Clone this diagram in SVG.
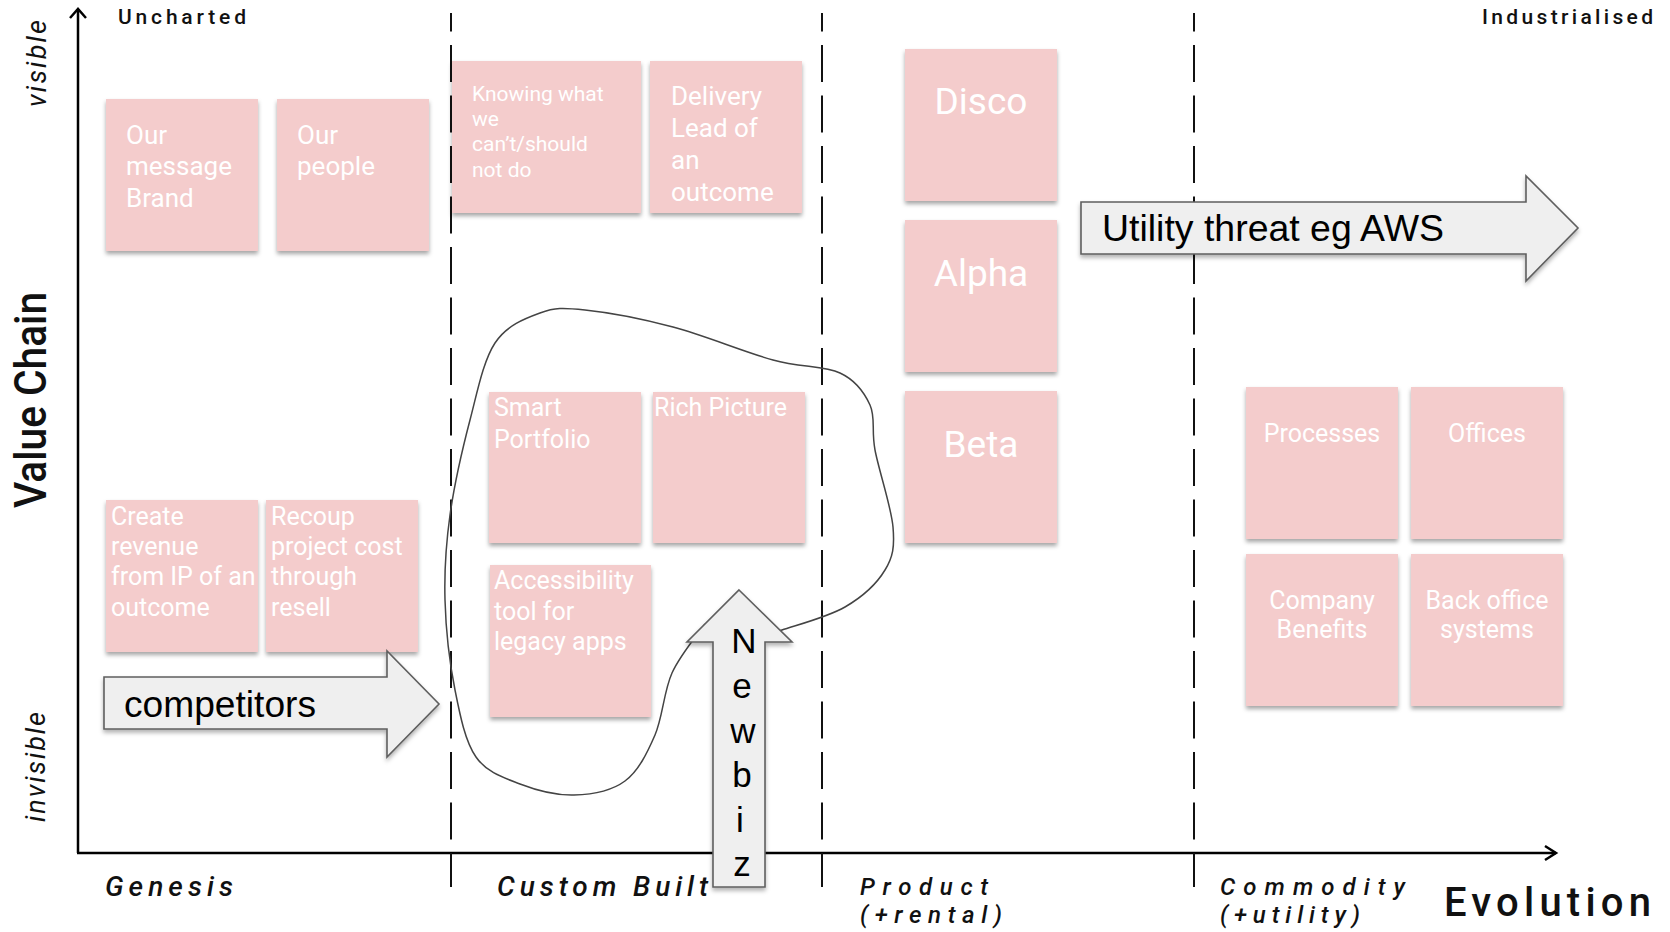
<svg xmlns="http://www.w3.org/2000/svg" width="1670" height="932" viewBox="0 0 1670 932">
<style>
.note{fill:#f4cccc;filter:url(#sh);}
.nt{fill:#ffffff;font-family:Roboto,"Liberation Sans",sans-serif;font-weight:400;}
.c{text-anchor:middle;}
.axis{stroke:#000;stroke-width:2.5;fill:none;}
.dash{stroke:#111;stroke-width:2;stroke-dasharray:37 13.5;stroke-dashoffset:18.5;}
.blk{fill:#efefef;stroke:#5f5f5f;stroke-width:1.6;filter:url(#sh2);}
.bt{font-family:"Liberation Sans",Arial,sans-serif;fill:#000;}
.lab{font-family:Roboto,"Liberation Sans",sans-serif;fill:#111;}
.stage{font-family:Roboto,"Liberation Sans",sans-serif;font-style:italic;font-weight:500;fill:#111;}
</style>
<defs>
<filter id="sh" x="-10%" y="-10%" width="130%" height="130%">
<feDropShadow dx="0" dy="3" stdDeviation="2.2" flood-color="#000" flood-opacity="0.35"/>
</filter>
<filter id="sh2" x="-10%" y="-10%" width="130%" height="130%">
<feDropShadow dx="0" dy="3" stdDeviation="2" flood-color="#000" flood-opacity="0.3"/>
</filter>
</defs>
<rect width="1670" height="932" fill="#ffffff"/>

<g id="axes">
<line class="axis" x1="78" y1="9" x2="78" y2="853"/>
<polyline class="axis" points="70,18 78,9 86,18"/>
<line class="axis" x1="77" y1="853" x2="1556" y2="853"/>
<polyline class="axis" points="1545,846 1556,853 1545,860"/>
<line class="dash" x1="451" y1="13" x2="451" y2="887"/>
<line class="dash" x1="822" y1="13" x2="822" y2="887"/>
<line class="dash" x1="1194" y1="13" x2="1194" y2="887"/>
</g>

<g id="axis-labels">
<text class="lab" x="118" y="24" font-size="21" font-weight="500" textLength="128" lengthAdjust="spacing">Uncharted</text>
<text class="lab" x="1482" y="24" font-size="21" font-weight="500" textLength="171" lengthAdjust="spacing">Industrialised</text>
<text class="lab" transform="translate(46,508) rotate(-90)" font-size="44" font-weight="500" textLength="216" lengthAdjust="spacingAndGlyphs">Value Chain</text>
<text class="lab" transform="translate(46,107) rotate(-90)" font-size="27" font-style="italic" textLength="87" lengthAdjust="spacing">visible</text>
<text class="lab" transform="translate(45,822) rotate(-90)" font-size="27" font-style="italic" textLength="110" lengthAdjust="spacing">invisible</text>
<text class="stage" x="105" y="896" font-size="28" textLength="128" lengthAdjust="spacing">Genesis</text>
<text class="stage" x="497" y="896" font-size="28" textLength="211" lengthAdjust="spacing">Custom Built</text>
<text class="stage" x="860" y="895" font-size="24" textLength="128" lengthAdjust="spacing">Product</text>
<text class="stage" x="860" y="923" font-size="24" textLength="142" lengthAdjust="spacing">(+rental)</text>
<text class="stage" x="1220" y="895" font-size="24" textLength="185" lengthAdjust="spacing">Commodity</text>
<text class="stage" x="1220" y="923" font-size="24" textLength="140" lengthAdjust="spacing">(+utility)</text>
<text class="lab" x="1444" y="916" font-size="40" font-weight="500" textLength="207" lengthAdjust="spacing">Evolution</text>
</g>

<g id="n-our-message">
<rect class="note" x="106" y="99" width="152" height="152"/>
<text class="nt" font-size="26"><tspan x="126" y="144">Our</tspan><tspan x="126" y="175">message</tspan><tspan x="126" y="207">Brand</tspan></text>
</g>
<g id="n-our-people">
<rect class="note" x="277" y="99" width="152" height="152"/>
<text class="nt" font-size="26"><tspan x="297" y="144">Our</tspan><tspan x="297" y="175">people</tspan></text>
</g>
<g id="n-knowing">
<rect class="note" x="452" y="61" width="189" height="152"/>
<text class="nt" font-size="21"><tspan x="472" y="101">Knowing what</tspan><tspan x="472" y="126">we</tspan><tspan x="472" y="151">can’t/should</tspan><tspan x="472" y="177">not do</tspan></text>
</g>
<g id="n-delivery">
<rect class="note" x="650" y="61" width="152" height="152"/>
<text class="nt" font-size="26"><tspan x="671" y="105">Delivery</tspan><tspan x="671" y="137">Lead of</tspan><tspan x="671" y="169">an</tspan><tspan x="671" y="201">outcome</tspan></text>
</g>
<g id="n-disco">
<rect class="note" x="905" y="49" width="152" height="152"/>
<text class="nt c" x="981" y="114" font-size="37">Disco</text>
</g>
<g id="n-alpha">
<rect class="note" x="905" y="220" width="152" height="152"/>
<text class="nt c" x="981" y="286" font-size="37">Alpha</text>
</g>
<g id="n-beta">
<rect class="note" x="905" y="391" width="152" height="152"/>
<text class="nt c" x="981" y="457" font-size="37">Beta</text>
</g>
<g id="n-smart">
<rect class="note" x="489" y="392" width="152" height="151"/>
<text class="nt" font-size="25"><tspan x="494" y="416">Smart</tspan><tspan x="494" y="448">Portfolio</tspan></text>
</g>
<g id="n-rich">
<rect class="note" x="653" y="392" width="152" height="151"/>
<text class="nt" x="654" y="416" font-size="25">Rich Picture</text>
</g>
<g id="n-access">
<rect class="note" x="490" y="565" width="161" height="152"/>
<text class="nt" font-size="25"><tspan x="494" y="589">Accessibility</tspan><tspan x="494" y="620">tool for</tspan><tspan x="494" y="650">legacy apps</tspan></text>
</g>
<g id="n-create">
<rect class="note" x="106" y="500" width="152" height="152"/>
<text class="nt" font-size="25"><tspan x="111" y="525">Create</tspan><tspan x="111" y="555">revenue</tspan><tspan x="111" y="585">from IP of an</tspan><tspan x="111" y="616">outcome</tspan></text>
</g>
<g id="n-recoup">
<rect class="note" x="266" y="500" width="152" height="152"/>
<text class="nt" font-size="25"><tspan x="271" y="525">Recoup</tspan><tspan x="271" y="555">project cost</tspan><tspan x="271" y="585">through</tspan><tspan x="271" y="616">resell</tspan></text>
</g>
<g id="n-processes">
<rect class="note" x="1246" y="387" width="152" height="152"/>
<text class="nt c" x="1322" y="442" font-size="25">Processes</text>
</g>
<g id="n-offices">
<rect class="note" x="1411" y="387" width="152" height="152"/>
<text class="nt c" x="1487" y="442" font-size="25">Offices</text>
</g>
<g id="n-benefits">
<rect class="note" x="1246" y="554" width="152" height="152"/>
<text class="nt c" font-size="25"><tspan x="1322" y="609">Company</tspan><tspan x="1322" y="638">Benefits</tspan></text>
</g>
<g id="n-backoffice">
<rect class="note" x="1411" y="554" width="152" height="152"/>
<text class="nt c" font-size="25"><tspan x="1487" y="609">Back office</tspan><tspan x="1487" y="638">systems</tspan></text>
</g>

<g id="connectors">
<path id="blob" fill="none" stroke="#444" stroke-width="1.5" d="M705,624 C699.5,632.2 680.3,654.5 672,673 C663.7,691.5 662.8,717 655,735 C647.2,753 638.5,771 625,781 C611.5,791 591.5,794.5 574,795 C556.5,795.5 536.3,790.3 520,784 C503.7,777.7 486.8,772.7 476,757 C465.2,741.3 460.2,716.2 455,690 C449.8,663.8 445.8,629.2 445,600 C444.2,570.8 445.8,545 450,515 C454.2,485 462.5,448.7 470,420 C477.5,391.3 483.3,360.8 495,343 C506.7,325.2 525,318.5 540,313 C555,307.5 562.8,307.7 585,310 C607.2,312.3 641.7,318.7 673,327 C704.3,335.3 745.2,352.3 773,360 C800.8,367.7 823.8,365.5 840,373 C856.2,380.5 864.2,392.2 870,405 C875.8,417.8 871.2,429.7 875,450 C878.8,470.3 891.3,507 893,527 C894.7,547 893,556.7 885,570 C877,583.3 862.2,597 845,607 C827.8,617 796.2,625.2 782,630 C767.8,634.8 763.7,635 760,636"/>
</g>

<g id="a-competitors">
<polygon class="blk" points="104,677 387,677 387,651 439,704 387,757 387,729 104,729"/>
<text class="bt" x="124" y="717" font-size="36" textLength="192" lengthAdjust="spacingAndGlyphs">competitors</text>
</g>
<g id="a-utility">
<polygon class="blk" points="1081,202 1526,202 1526,176 1578,228 1526,281 1526,254 1081,254"/>
<text class="bt" x="1102" y="241" font-size="36" textLength="342" lengthAdjust="spacingAndGlyphs">Utility threat eg AWS</text>
</g>
<g id="a-newbiz">
<polygon class="blk" points="739,590 792,642 765,642 765,887 713,887 713,642 687,642"/>
<text class="bt c" font-size="35"><tspan x="744" y="653">N</tspan><tspan x="742" y="698">e</tspan><tspan x="743" y="743">w</tspan><tspan x="742" y="787">b</tspan><tspan x="740" y="832">i</tspan><tspan x="742" y="876">z</tspan></text>
</g>
</svg>
